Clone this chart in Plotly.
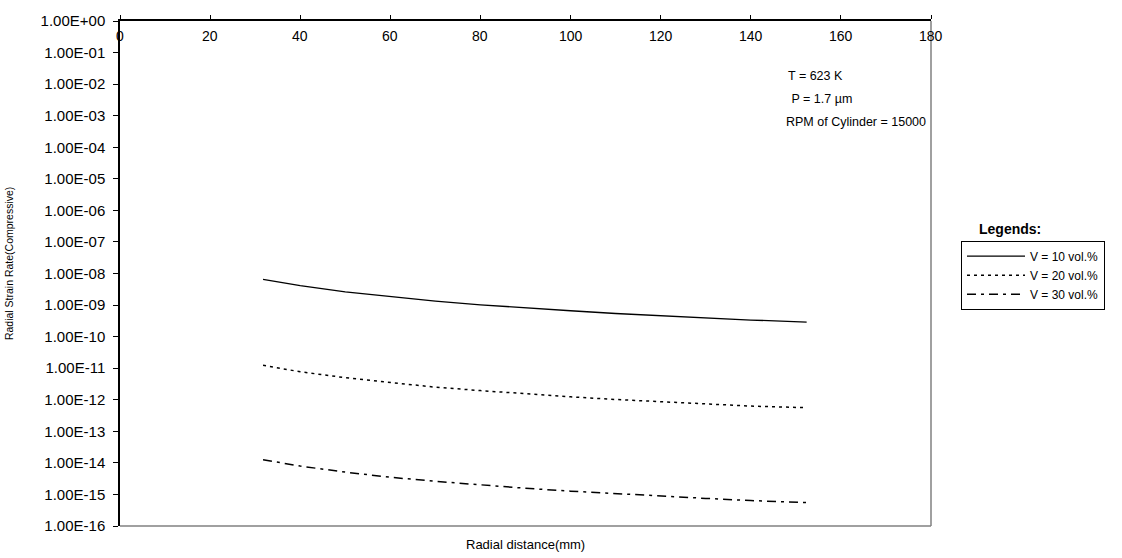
import plotly.graph_objects as go

# Radial distance (mm) along the cylinder
radius_mm = [31.75, 40, 50, 60, 70, 80, 90, 100, 110, 120, 130, 140, 152.4]

# Radial strain rate (compressive), 1/s
rate_v10 = [6.5e-9, 4.1e-9, 2.6e-9, 1.82e-9, 1.34e-9, 1.02e-9, 8.1e-10,
            6.6e-10, 5.4e-10, 4.55e-10, 3.9e-10, 3.35e-10, 2.9e-10]
rate_v20 = [1.23e-11, 7.7e-12, 5.0e-12, 3.45e-12, 2.5e-12, 1.95e-12, 1.53e-12,
            1.24e-12, 1.02e-12, 8.6e-13, 7.3e-13, 6.3e-13, 5.6e-13]
rate_v30 = [1.26e-14, 7.9e-15, 5.1e-15, 3.5e-15, 2.6e-15, 2.0e-15, 1.57e-15,
            1.27e-15, 1.05e-15, 8.8e-16, 7.5e-16, 6.4e-16, 5.5e-16]

series_names = ["V = 10 vol.%", "V = 20 vol.%", "V = 30 vol.%"]

y_exponents = list(range(0, -17, -1))
y_tickvals = [10.0 ** e for e in y_exponents]
y_ticktext = ["1.00E+00" if e == 0 else "1.00E-%02d" % (-e) for e in y_exponents]

x_tickvals = list(range(0, 181, 20))
x_ticktext = [str(v) for v in x_tickvals]

FONT = "Liberation Sans, Arial, sans-serif"

fig = go.Figure()
fig.add_trace(go.Scatter(x=radius_mm, y=rate_v10, mode="lines", name=series_names[0],
                         line=dict(color="black", width=1.3, dash="solid")))
fig.add_trace(go.Scatter(x=radius_mm, y=rate_v20, mode="lines", name=series_names[1],
                         line=dict(color="black", width=1.5, dash="3px,4px")))
fig.add_trace(go.Scatter(x=radius_mm, y=rate_v30, mode="lines", name=series_names[2],
                         line=dict(color="black", width=1.5, dash="9px,5px,3px,5px")))

fig.update_layout(
    width=1122, height=558,
    margin=dict(l=120, r=191, t=16, b=32),
    paper_bgcolor="white", plot_bgcolor="white",
    font=dict(family=FONT, size=13, color="black"),
    showlegend=True,
    legend=dict(
        x=1.037, y=0.565, xanchor="left", yanchor="top",
        bordercolor="black", borderwidth=1, bgcolor="white",
        font=dict(family=FONT, size=12, color="black"),
        tracegroupgap=0, itemwidth=58,
    ),
    xaxis=dict(
        range=[0, 180], side="top", tickvals=x_tickvals,
        showticklabels=False,
        showline=True, linecolor="black", linewidth=1.5,
        ticks="outside", ticklen=4, tickcolor="black",
        showgrid=False, zeroline=False,
    ),
    yaxis=dict(
        type="log", range=[-16, 0], tickvals=y_tickvals, ticktext=y_ticktext,
        showline=True, linecolor="black", linewidth=1.5,
        ticks="outside", ticklen=5, tickcolor="black", ticklabelstandoff=5,
        showgrid=False, zeroline=False,
        tickfont=dict(family=FONT, size=15, color="black"),
    ),
)

# Lower and right frame edges in grey
fig.add_shape(type="line", xref="paper", yref="paper", x0=0, x1=1, y0=0, y1=0,
              line=dict(color="#a0a0a0", width=2))
fig.add_shape(type="line", xref="paper", yref="paper", x0=1, x1=1, y0=0, y1=1,
              line=dict(color="#808080", width=1.5))

annotations = []
# x tick labels sit just under the top axis line
for v, t in zip(x_tickvals, x_ticktext):
    annotations.append(dict(text=t, x=v, y=1, xref="x", yref="paper",
                            xanchor="center", yanchor="top", yshift=-5, showarrow=False,
                            font=dict(family=FONT, size=14)))

annotations += [
    dict(text="Radial distance(mm)", x=0.5, y=-0.018, xref="paper", yref="paper",
         xanchor="center", yanchor="top", showarrow=False,
         font=dict(family=FONT, size=13)),
    dict(text="Radial Strain Rate(Compressive)", x=-0.136, y=0.52, xref="paper", yref="paper",
         xanchor="center", yanchor="middle", showarrow=False, textangle=-90,
         font=dict(family="Liberation Sans Narrow, Arial Narrow, sans-serif", size=10.5)),
    dict(text="T = 623 K", x=0.821, y=0.892, xref="paper", yref="paper",
         xanchor="left", yanchor="middle", showarrow=False, font=dict(family=FONT, size=12.5)),
    dict(text=" P = 1.7 µm", x=0.821, y=0.845, xref="paper", yref="paper",
         xanchor="left", yanchor="middle", showarrow=False, font=dict(family=FONT, size=12.5)),
    dict(text="RPM of Cylinder = 15000", x=0.819, y=0.8, xref="paper", yref="paper",
         xanchor="left", yanchor="middle", showarrow=False, font=dict(family=FONT, size=12.5)),
    dict(text="<b>Legends:</b>", x=1.057, y=0.588, xref="paper", yref="paper",
         xanchor="left", yanchor="middle", showarrow=False, font=dict(family=FONT, size=14)),
]
fig.update_layout(annotations=annotations)

fig.write_html("out.html")
